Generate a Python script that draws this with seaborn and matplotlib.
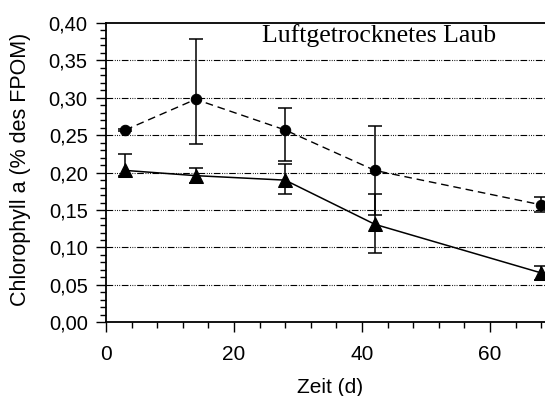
import matplotlib
matplotlib.use("Agg")
import matplotlib.pyplot as plt
from matplotlib.ticker import MultipleLocator, FuncFormatter
import seaborn as sns
import pandas as pd

# Sampling days
zeit = [3, 14, 28, 42, 68]

# Chlorophyll a, circles (dashed line)
chl_kreis = [0.257, 0.298, 0.257, 0.203, 0.157]
kreis_err_unten = [0.002, 0.060, 0.041, 0.060, 0.010]
kreis_err_oben = [0.002, 0.080, 0.030, 0.060, 0.010]

# Chlorophyll a, triangles (solid line)
chl_dreieck = [0.203, 0.196, 0.190, 0.131, 0.066]
dreieck_err_unten = [0.008, 0.010, 0.019, 0.039, 0.009]
dreieck_err_oben = [0.022, 0.010, 0.022, 0.041, 0.009]

titel = "Luftgetrocknetes Laub"
x_label = "Zeit (d)"
y_label = "Chlorophyll a (% des FPOM)"

sns.set_theme(style="ticks")
plt.rcParams["font.family"] = ["Liberation Sans", "DejaVu Sans"]

df_k = pd.DataFrame({"zeit": zeit, "chl": chl_kreis})
df_d = pd.DataFrame({"zeit": zeit, "chl": chl_dreieck})

fig = plt.figure(figsize=(5.45, 3.96), dpi=100)
ax = fig.add_axes([106 / 545, (396 - 322.3) / 396, 439 / 545, 299.3 / 396])

# grid lines (dash-dot-dot) at major y ticks
for yv in [0.05, 0.10, 0.15, 0.20, 0.25, 0.30, 0.35]:
    ax.axhline(yv, color="black", lw=0.8, dashes=(6, 1.5, 0.8, 1.2, 0.8, 1.2, 0.8, 1.5), zorder=1)

sns.lineplot(data=df_k, x="zeit", y="chl", ax=ax, color="black", lw=1.0,
             linestyle=(0, (5.5, 3.5)), marker="o", markersize=7.5,
             markeredgecolor="black", markerfacecolor="black", zorder=3, clip_on=False)
sns.lineplot(data=df_d, x="zeit", y="chl", ax=ax, color="black", lw=1.1,
             marker="^", markersize=9.5,
             markeredgecolor="black", markerfacecolor="black", zorder=3, clip_on=False)

ax.errorbar(zeit, chl_kreis, yerr=[kreis_err_unten, kreis_err_oben], fmt="none",
            ecolor="black", elinewidth=1.1, capsize=5.3, capthick=1.1, zorder=4, clip_on=False)
ax.errorbar(zeit, chl_dreieck, yerr=[dreieck_err_unten, dreieck_err_oben], fmt="none",
            ecolor="black", elinewidth=1.1, capsize=5.3, capthick=1.1, zorder=4, clip_on=False)

ax.set_xlim(0, 68.6)
ax.set_ylim(0, 0.40)
ax.xaxis.set_major_locator(MultipleLocator(20))
ax.xaxis.set_minor_locator(MultipleLocator(4))
ax.yaxis.set_major_locator(MultipleLocator(0.05))
ax.yaxis.set_minor_locator(MultipleLocator(0.01))
ax.yaxis.set_major_formatter(FuncFormatter(lambda v, p: f"{v:.2f}".replace(".", ",")))

ax.tick_params(axis="both", which="major", direction="out", length=7.2, width=1.0,
               color="black", labelcolor="black")
ax.tick_params(axis="both", which="minor", direction="out", length=4, width=1.0, color="black")
ax.tick_params(axis="y", which="major", labelsize=14.5, pad=6)
ax.tick_params(axis="x", which="major", labelsize=15, pad=9)

for side in ["left", "bottom", "top"]:
    ax.spines[side].set_color("black")
    ax.spines[side].set_linewidth(1.3)
ax.spines["right"].set_visible(False)

ax.set_xlabel(x_label, fontsize=15, color="black")
ax.xaxis.set_label_coords((330 - 106) / 439, -(393 - 322.3) / 299.3)
ax.xaxis.label.set_va("baseline")
ax.set_ylabel(y_label, fontsize=15.5, color="black")
ax.yaxis.set_label_coords((31 - 106) / 439, (322.3 - 169) / 299.3)

ax.text(0.623, 0.935, titel, transform=ax.transAxes, ha="center", va="baseline",
        fontsize=18.5, family=["Liberation Serif", "DejaVu Serif"], color="black")

fig.savefig("out.png", dpi=100)
